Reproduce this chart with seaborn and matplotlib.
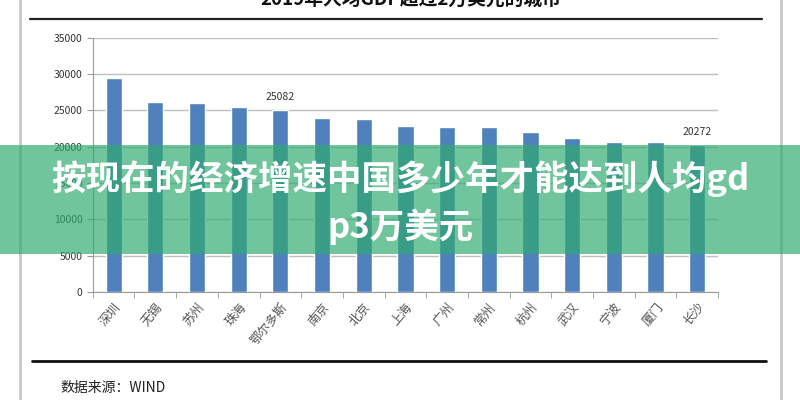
import matplotlib
matplotlib.use("Agg")
import matplotlib.pyplot as plt
from matplotlib.patches import Rectangle
from matplotlib.lines import Line2D
import seaborn as sns
import pandas as pd

cities = ["深圳", "无锡", "苏州", "珠海", "鄂尔多斯", "南京", "北京", "上海",
          "广州", "常州", "杭州", "武汉", "宁波", "厦门", "长沙"]
gdp_per_capita = [29400, 26100, 25960, 25450, 25082, 24000, 23760, 22800,
                  22660, 22660, 22010, 21140, 20700, 20700, 20272]
labelled = {"鄂尔多斯": "25082", "长沙": "20272"}

title = "2019年人均GDP超过2万美元的城市"
banner_lines = ["按现在的经济增速中国多少年才能达到人均gd", "p3万美元"]
source = "数据来源：WIND"

sns.set_style("white")
plt.rcParams["font.family"] = ["Noto Sans CJK SC", "DejaVu Sans"]

df = pd.DataFrame({"city": cities, "gdp": gdp_per_capita})

fig = plt.figure(figsize=(8, 4), dpi=100)
ax = fig.add_axes([0.116, 0.27, 0.7815, 0.636])

sns.barplot(data=df, x="city", y="gdp", color="#4F81BD", saturation=1,
            width=0.39, ax=ax, zorder=3)

ax.set_xlim(-0.5, len(cities) - 0.5)
ax.set_ylim(0, 35000)
ax.set_yticks(range(0, 35001, 5000))
ax.yaxis.grid(True, color="#BEBEBE", linewidth=1, zorder=0)
ax.set_axisbelow(True)
ax.set_xlabel("")
ax.set_ylabel("")

for side in ["top", "right"]:
    ax.spines[side].set_visible(False)
ax.spines["left"].set_color("#9A9A9A")
ax.spines["bottom"].set_color("#9A9A9A")

ax.tick_params(axis="y", direction="out", length=4, color="#9A9A9A",
               labelsize=7.5, labelcolor="#333333", left=True)
ax.set_xticks(range(len(cities)))
ax.set_xticklabels(cities, rotation=50, ha="right", rotation_mode="anchor",
                   fontsize=9, color="#555555")
ax.tick_params(axis="x", which="major", length=0, pad=6)
ax.set_xticks([i - 0.5 for i in range(len(cities) + 1)], minor=True)
ax.tick_params(axis="x", which="minor", direction="out", length=4,
               color="#9A9A9A", bottom=True)

for i, (c, v) in enumerate(zip(cities, gdp_per_capita)):
    if c in labelled:
        ax.text(i, v + 1100, labelled[c], ha="center", va="bottom",
                fontsize=7.5, color="#333333")

# page frame and rules
fig.add_artist(Line2D([0.025, 0.025], [0, 1], color="#C8C8C8", lw=2))
fig.add_artist(Line2D([0.976, 0.976], [0, 1], color="#C8C8C8", lw=2))
fig.add_artist(Line2D([0.037, 0.953], [0.952, 0.952], color="#222222", lw=1.6))
fig.add_artist(Line2D([0.04, 0.958], [0.097, 0.097], color="#111111", lw=2))

fig.text(0.513, 1.003, title, ha="center", va="center", fontsize=13.5,
         fontweight="bold", color="#111111")
fig.text(0.075, 0.03, source, ha="left", va="center", fontsize=10,
         color="#222222")

# overlay banner
fig.add_artist(Rectangle((0, 0.365), 1, 0.2725, transform=fig.transFigure,
                         facecolor="#2EAA6E", alpha=0.68, edgecolor="none",
                         zorder=5))
fig.text(0.5, 0.5525, banner_lines[0], ha="center", va="center",
         fontsize=24.8, fontweight="bold", color="white", zorder=6)
fig.text(0.5, 0.4325, banner_lines[1], ha="center", va="center",
         fontsize=24.8, fontweight="bold", color="white", zorder=6)

fig.savefig("out.png", dpi=100)
